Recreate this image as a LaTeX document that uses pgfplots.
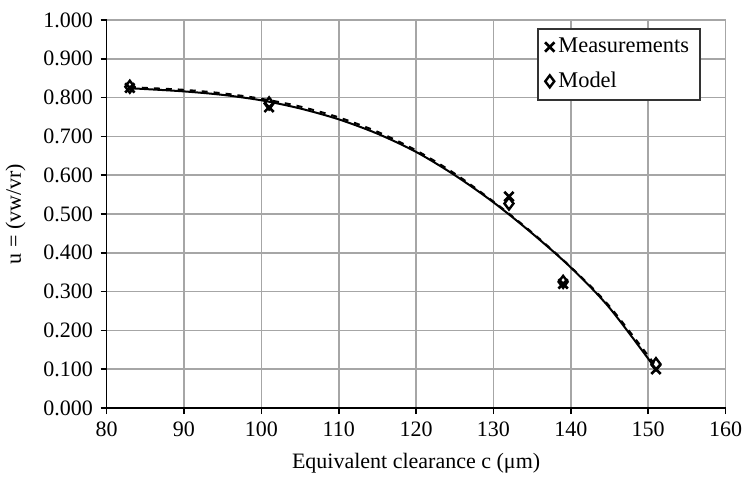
\documentclass[border=0pt]{standalone}
\usepackage{pgfplots}
\pgfplotsset{compat=1.18}
\usepackage{fontspec}
\setmainfont{Liberation Serif}
\begin{document}
\fontsize{11}{13.2}\selectfont
\begin{tikzpicture}
\begin{axis}[
  name=ax,
  scale only axis,
  width=309.5pt, height=194pt,
  xmin=80, xmax=160, ymin=0, ymax=1,
  xtick={80,90,...,160},
  ytick={0,0.1,...,1.0},
  /pgf/number format/assume math mode=true,
  yticklabel style={/pgf/number format/.cd, fixed, fixed zerofill, precision=3},
  xticklabel style={/pgf/number format/.cd, fixed},
  scaled y ticks=false,
  grid=major,
  grid style={gray!70, line width=0.8pt},
  axis x line*=bottom, axis y line*=left,
  axis line style={black, line width=0.9pt},
  tick align=outside,
  major tick length=3pt,
  tick style={black, line width=0.8pt},
  xlabel={Equivalent clearance c (μm)},
  ylabel={u = (vw/vr)},
  xlabel style={at={(axis description cs:0.5,-0.142)}, anchor=center},
  ylabel style={at={(axis description cs:-0.147,0.5)}, anchor=center},
  legend style={at={(rel axis cs:0.96,0.979)}, anchor=north east,
    draw=black!80, line width=0.8pt, inner xsep=3.5pt, inner ysep=2.5pt, row sep=4pt,
    legend cell align=left, font=\fontsize{11.2}{13.4}\selectfont},
  legend image code/.code={\draw[#1] plot coordinates {(0.12cm,0cm)};},
]
\addplot[black, line width=1pt, smooth, forget plot] coordinates {
(83,0.824) (85,0.822) (90,0.816) (95,0.807) (100,0.793) (105,0.772)
(110,0.744) (115,0.707) (120,0.660) (125,0.600) (130,0.530) (135,0.450)
(140,0.362) (145,0.258) (151,0.100)};
\addplot[black, line width=1pt, dashed, smooth, forget plot] coordinates {
(83,0.827) (85,0.825) (90,0.820) (95,0.811) (100,0.797) (105,0.777)
(110,0.749) (115,0.712) (120,0.664) (125,0.604) (130,0.532) (135,0.452)
(140,0.363) (145,0.262) (151,0.108)};
\addplot[only marks, mark=x, mark size=3.3pt, mark options={line width=1.3pt, black}] coordinates {
(83,0.825) (101,0.775) (132,0.545) (139,0.320) (151,0.100)};
\addlegendentry{Measurements}
\addplot[only marks, mark=diamond, mark size=3pt, mark options={line width=1.2pt, black, fill=white}] coordinates {
(83,0.828) (101,0.785) (132,0.527) (139,0.325) (151,0.113)};
\addlegendentry{Model}
\end{axis}
\pgfresetboundingbox
\path ([shift={(-53.3pt,-34pt)}]ax.south west) rectangle ([shift={(8.2pt,10pt)}]ax.north east);
\end{tikzpicture}
\end{document}
